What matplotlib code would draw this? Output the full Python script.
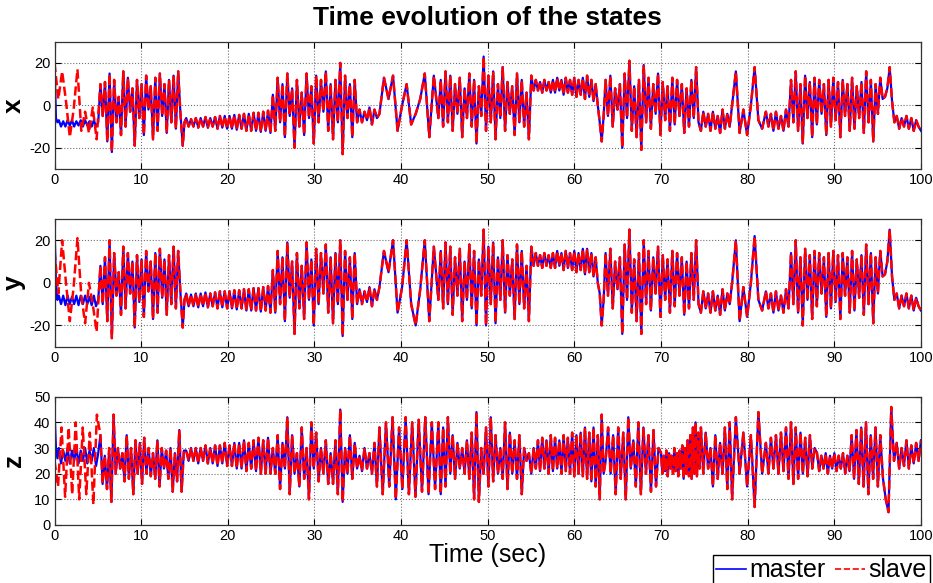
import numpy as np
import matplotlib
matplotlib.use("Agg")
import matplotlib.pyplot as plt

plt.rcParams['font.family'] = ['Liberation Sans', 'DejaVu Sans']
plt.rcParams['axes.unicode_minus'] = False

# ---------------- data (extreme values) ----------------
# each series: segment boundaries (sec) and the successive peak/trough values in each segment
x_breaks = [0, 0.5, 5.3, 14.8, 15.2, 25.2, 35.2, 37.5, 44.3, 55.3, 62.7, 63.6,
            74.6, 78.2, 82.1, 85.0, 95.3, 97.2, 100]
x_vals = [
    [20, -6, -8],
    [-7, -10, -7.5, -10, -7, -9.5, -7, -10, -7.5, -9.5, -7, -10, -7, -9.5, -7.5, -10, -7, -10, -8],
    [10, -5, 11, -17, 15, -22, 12, -8, 4, -14, 16, -10, 13, -3, 8, -19, 12, -6, 10, -14, 14, -2, 9, -16,
     13, -12, 15, -5, 10, -13, 12, -8, 14, -11, 16, -4],
    [-19, -8],
    [-6, -10, -6.5, -10, -6, -10.5, -6, -10, -5.5, -10.5, -6, -10, -5.5, -11, -5, -10.5, -5, -11, -5, -11,
     -4.5, -11.5, -4.5, -11, -4, -12, -4, -12, -3.5, -12, -3.5, -12.5, -3, -12, -2.5, -13],
    [5, -12, 13, -8, 10, -15, 15, -5, 8, -20, 12, -10, 6, -14, 15, -6, 9, -18, 14, -8, 12, -3, 16, -12,
     10, -16, 12, -8, 20, -23, 14, -6, 10, -15, 12, -8],
    [-2, -8, -3, -7, -1, -9, -2, -6],
    [-4, 13, 3, 14, -12, 0, 10, -9, -4, 3, 15, -15, 14],
    [-6, 12, -10, 16, -8, 14, -12, 10, -4, 13, -15, 8, -6, 15, -10, 12, -18, 9, -5, 23, -12, 14, -8, 16,
     -16, 10, -6, 18, -12, 11, -4, 9, -14, 15, -8, 12, -10, 6, -16, 14],
    [7, 12, 7, 11, 6, 12, 7, 11, 6, 12, 6, 13, 7, 12, 5, 13, 6, 12, 5, 13, 4, 12, 5, 13, 3, 14, 4, 12, 2, 10],
    [0, -8, -17, -5],
    [12, -5, 14, -10, 8, -2, 10, -20, 15, -6, 21, -12, 9, -15, 12, -21, 19, -8, 13, -11, 10, -4, 15, -14,
     11, -7, 9, -12, 13, -9, 12, -5, 10, -13, 8, -10, 12, -6, 18, -8],
    [-12, -3, -10, -4, -12, -3, -11, -5, -13, -2, -11, -4, -10],
    [0, 16, -13, -2, -14, 0, 18, -7, -11],
    [-3, -10, -4, -12, -3, -11, -5, -12, -2, -10],
    [12, -8, 16, -12, 10, -18, 14, -6, 11, -15, 13, -9, 12, -4, 10, -14, 12, -10, 13, -7, 11, -15, 12, -5,
     10, -12, 13, -11, 9, -6, 11, -13, 16, -8, 12, -17, 10, -4],
    [13, 3, 4, 8, 18, 2, -8],
    [-5, -11, -6, -10, -5, -11, -6, -12, -7, -10, -12],
]

y_breaks = x_breaks
y_vals = [
    [27, 0, -8],
    [-6, -10, -6, -10.5, -6, -10, -6.5, -10, -6, -10.5, -6, -10, -6, -10, -6.5, -10.5, -6, -11, -8],
    [8, -10, 12, -18, 20, -26, 14, -6, 5, -15, 17, -12, 14, -5, 10, -21, 13, -9, 11, -16, 15, -4, 10, -17,
     14, -14, 16, -7, 11, -15, 13, -10, 17, -12, 15, -5],
    [-21, -8],
    [-5, -11, -5.5, -11, -5, -11.5, -5, -11, -4.5, -11.5, -5, -11, -4.5, -12, -4, -11.5, -4, -12, -4, -12,
     -3.5, -12.5, -3.5, -12, -3, -13, -3, -13, -2.5, -13, -2.5, -13.5, -2, -13, -1.5, -14],
    [6, -14, 15, -10, 12, -18, 19, -7, 10, -24, 14, -12, 8, -17, 19, -8, 11, -20, 16, -10, 14, -5, 18, -14,
     12, -19, 14, -10, 20, -25, 15, -8, 12, -17, 14, -10],
    [-3, -10, -4, -9, -2, -11, -3, -8],
    [-2, 15, 5, 20, -14, -2, 20, -10, -20, -3, 20, -18, 17],
    [-8, 15, -12, 19, -10, 17, -15, 12, -6, 16, -18, 10, -8, 18, -12, 15, -20, 11, -6, 25, -20, 17, -10, 19,
     -19, 12, -8, 20, -14, 13, -6, 11, -17, 18, -10, 15, -12, 8, -18, 17],
    [8, 14, 8, 13, 7, 14, 8, 13, 7, 14, 7, 15, 8, 14, 6, 15, 7, 14, 6, 15, 5, 14, 6, 16, 4, 16, 5, 14, 3, 12],
    [0, -5, -20, -8],
    [14, -6, 16, -12, 10, -3, 12, -24, 18, -8, 25, -14, 11, -18, 14, -24, 20, -10, 15, -13, 12, -5, 17, -16,
     13, -8, 11, -14, 15, -11, 14, -6, 12, -15, 10, -12, 14, -8, 20, -10],
    [-14, -4, -12, -5, -14, -4, -13, -6, -15, -3, -13, -5, -10],
    [0, 20, -18, -2, -16, 0, 22, -8, -13],
    [-4, -12, -5, -14, -4, -13, -6, -14, -3, -12],
    [14, -10, 20, -14, 12, -20, 16, -8, 13, -17, 15, -11, 14, -5, 12, -16, 14, -12, 15, -9, 13, -17, 14, -6,
     12, -14, 15, -13, 11, -7, 13, -15, 18, -10, 14, -19, 12, -5],
    [15, 3, 4, 10, 25, 3, -8],
    [-5, -12, -6, -11, -5, -12, -6, -13, -7, -11, -13],
]

z_breaks = [0, 0.5, 5.3, 14.4, 15.2, 25.2, 35.2, 37.5, 44.3, 55.3, 62.7, 63.6, 70.0,
            74.6, 78.2, 82.1, 85.0, 88.0, 92.0, 95.3, 97.2, 100]
z_vals = [
    [45, 30, 26],
    [30, 24, 29, 25, 30, 24, 29, 25, 30, 24, 29, 25, 30, 24, 29, 25, 30, 23, 28],
    [35, 16, 27, 14, 30, 9, 43, 20, 30, 22, 28, 17, 35, 18, 30, 12, 33, 20, 32, 16, 34, 20, 30, 19,
     28, 18, 33, 15, 30, 22, 29, 18, 30, 13, 28, 17],
    [37, 13, 29],
    [29, 25, 30, 25, 30, 24, 30, 25, 31, 24, 30, 24, 31, 23, 31, 24, 32, 23, 31, 23, 32, 22, 32, 22,
     33, 21, 32, 22, 33, 21, 34, 20, 33, 20, 34, 20],
    [30, 20, 35, 14, 32, 22, 42, 12, 35, 20, 28, 15, 38, 18, 30, 10, 40, 22, 36, 17, 30, 20, 33, 16,
     28, 16, 33, 12, 45, 9, 30, 20, 35, 18, 32, 22],
    [27, 21, 30, 22, 28, 20, 32, 15],
    [38, 12, 40, 15, 42, 10, 38, 14, 42, 12, 40, 11, 41, 13, 42, 12, 40, 14],
    [40, 12, 38, 15, 42, 20, 35, 18, 32, 22, 30, 20, 33, 18, 36, 10, 44, 9, 30, 20, 38, 15, 42, 17,
     35, 20, 30, 18, 40, 14, 36, 20, 33, 18, 35, 12, 30, 25, 28, 20],
    [30, 22, 33, 21, 34, 22, 33, 20, 35, 21, 34, 22, 33, 20, 35, 21, 34, 20, 36, 19, 35, 20, 36, 19,
     38, 18, 36, 17, 38, 15],
    [35, 10, 43, 20],
    [25, 38, 20, 35, 12, 38, 18, 36, 10, 42, 22, 33, 15, 40, 12, 38, 20, 35, 13, 37, 15, 30],
    [28, 20, 27, 21, 29, 19, 28, 22, 27, 20, 30, 21, 28, 19, 29, 22, 31, 18, 30, 20, 33, 19, 35, 18,
     38, 20, 40, 19, 36, 22],
    [38, 20, 36, 22, 30, 15, 35, 18, 32, 20, 38, 14, 40],
    [10, 42, 20, 36, 15, 35, 7, 44, 20],
    [32, 20, 34, 22, 35, 20, 36, 21, 38, 18],
    [40, 16, 38, 18, 36, 20, 34, 19, 35, 22, 30],
    [28, 21, 27, 22, 28, 20, 27, 22, 28, 21, 27, 22, 28, 20, 27, 21],
    [35, 18, 37, 16, 38, 15, 40, 12, 35, 18, 38, 15],
    [35, 18, 10, 5, 46, 25],
    [32, 22, 30, 23, 33, 22, 31, 24, 32, 25, 33],
]

# slave differs from master only before synchronisation
sync_t = 5.3
xs_early = [20, 3, 16, 2, -15, -2, 17, -12, -3, -13, -1, -16]
ys_early = [15, -5, 20, 0, -18, -2, 21, -6, -19, 0, -10, -23]
zs_early = [25, 15, 38, 11, 38, 12, 40, 10, 38, 12, 36, 8, 43]

state_labels = ['x', 'y', 'z']
y_limits = [(-30, 30), (-30, 30), (0, 50)]
y_ticks = [[-20, 0, 20], [-20, 0, 20], [0, 10, 20, 30, 40, 50]]
x_ticks = list(range(0, 101, 10))


def build(breaks, segs):
    ts, vs = [], []
    for i, vals in enumerate(segs):
        a, b = breaks[i], breaks[i + 1]
        n = len(vals)
        if i == len(segs) - 1:
            tt = np.linspace(a, b, n)
        else:
            tt = a + (b - a) * np.arange(n) / n
        ts.append(tt)
        vs.append(np.asarray(vals, float))
    return np.concatenate(ts), np.concatenate(vs)


def slave_of(t, v, early):
    te = np.linspace(0, sync_t, len(early), endpoint=False)
    m = t >= sync_t
    return np.concatenate([te, t[m]]), np.concatenate([np.asarray(early, float), v[m]])


series = []
for br, sv, early in [(x_breaks, x_vals, xs_early), (y_breaks, y_vals, ys_early),
                      (z_breaks, z_vals, zs_early)]:
    t, v = build(br, sv)
    ts, vs = slave_of(t, v, early)
    series.append((t, v, ts, vs))

# ---------------- figure ----------------
W, H = 933, 583
fig = plt.figure(figsize=(W / 100, H / 100), dpi=100)
ax_px = [(41.7, 169.0), (219.0, 346.7), (396.7, 525.0)]
left, right = 54.5, 921.0

handles = None
for i, (top, bot) in enumerate(ax_px):
    ax = fig.add_axes([left / W, 1 - bot / H, (right - left) / W, (bot - top) / H])
    t, v, ts, vs = series[i]
    l1, = ax.plot(t, v, color='#0000ff', lw=1.6)
    l2, = ax.plot(ts, vs, color='#ff0000', lw=1.8, linestyle='--')
    handles = [l1, l2]
    ax.set_xlim(0, 100)
    ax.set_ylim(*y_limits[i])
    ax.set_xticks(x_ticks)
    ax.set_yticks(y_ticks[i])
    ax.grid(True, linestyle=':', color='0.45', lw=0.8)
    ax.tick_params(direction='in', top=True, right=True, length=4, labelsize=10.5,
                   colors='black', pad=3)
    for s in ax.spines.values():
        s.set_color('0.2')
        s.set_linewidth(0.9)
    ax.set_ylabel(state_labels[i], fontsize=19, fontweight='bold')
    ax.yaxis.set_label_coords(-0.033, 0.5)

fig.text(487.7 / W, 1 - 18 / H, 'Time evolution of the states', ha='center', va='center',
         fontsize=19, fontweight='bold')
fig.text(487.7 / W, 1 - 555 / H, 'Time (sec)', ha='center', va='center', fontsize=18)

leg = fig.legend(handles, ['master', 'slave'], loc='lower left',
                 bbox_to_anchor=(713 / W, -0.004), ncol=2, fontsize=18, frameon=True,
                 fancybox=False, edgecolor='black', framealpha=1, handlelength=1.2,
                 handletextpad=0.15, columnspacing=0.35, borderpad=0.12, borderaxespad=0)
leg.get_frame().set_linewidth(1.0)
for lh in leg.get_lines():
    lh.set_linewidth(1.2)

fig.savefig('out.png', dpi=100)
